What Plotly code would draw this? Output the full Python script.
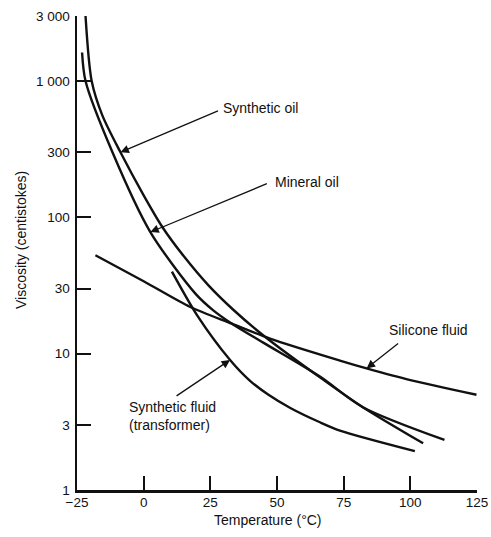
import numpy as np
import plotly.graph_objects as go

# ---- data (temperature °C, viscosity cSt) ----
synthetic_oil_T = [-21.8, -19.5, -15.5, -8.7, 0.0, 7.0, 15.0, 24.3, 33.6, 44.9, 66.1, 82.2, 104.8]
synthetic_oil_v = [3000, 1000, 560, 300, 145, 85, 52, 31.7, 21.0, 13.6, 6.7, 4.05, 2.2]

mineral_oil_T = [-23.1, -21.8, -11.7, 2.5, 19.4, 26.1, 33.1, 45.0, 66.1, 82.2, 112.8]
mineral_oil_v = [1620, 1000, 300, 78, 27.6, 20.8, 16.6, 12.0, 6.8, 4.05, 2.33]

silicone_T = [-18.1, 0.0, 17.5, 33.1, 47.4, 73.6, 83.6, 100.0, 124.8]
silicone_v = [52.7, 34.0, 22.0, 16.6, 12.9, 8.9, 7.8, 6.4, 5.0]

transformer_T = [10.6, 20.0, 32.4, 40.0, 46.8, 55.0, 66.1, 73.6, 101.7]
transformer_v = [40.0, 19.2, 9.0, 6.3, 5.0, 4.0, 3.14, 2.73, 1.93]

x_tickvals = [-25, 0, 25, 50, 75, 100, 125]
x_ticktext = ["\u221225", "0", "25", "50", "75", "100", "125"]
y_tickvals = [1, 3, 10, 30, 100, 300, 1000, 3000]
y_ticktext = ["1", "3", "10", "30", "100", "300", "1 000", "3 000"]

labels = ["Synthetic oil", "Mineral oil", "Silicone fluid", "Synthetic fluid<br>(transformer)"]
label_tip_T = [-8.7, 2.5, 83.6, 32.4]

FONT = "Liberation Sans, Arial, Helvetica, sans-serif"
INK = "#111111"

series = [
    (synthetic_oil_T, synthetic_oil_v),
    (mineral_oil_T, mineral_oil_v),
    (silicone_T, silicone_v),
    (transformer_T, transformer_v),
]

fig = go.Figure()
for T, v in series:
    fig.add_trace(go.Scatter(
        x=T, y=v, mode="lines",
        line=dict(color=INK, width=2.4, shape="spline", smoothing=0.8),
        showlegend=False, hoverinfo="skip", cliponaxis=False,
    ))

# plot area geometry (pixels) for placing labels
L, R, T_, B = 77, 14, 16, 47
W, H = 491, 537
pw, ph = W - L - R, H - T_ - B


def px(x):
    return (x - L) / pw


def py(y):
    return (H - B - y) / ph


annotations = []
label_pos = [(221, 108), (273, 182), (387, 330), (127, 416)]
for text, (lx, ly) in zip(labels, label_pos):
    annotations.append(dict(
        text=text, xref="paper", yref="paper", x=px(lx), y=py(ly),
        xanchor="left", yanchor="middle", align="left", showarrow=False,
        font=dict(family=FONT, size=14, color=INK),
    ))

# arrows: tip on the curve (interpolated from data), tail offset in pixels
arrow_offsets = [(99, -42), (118, -49), (33, -26), (-55, 37)]
for (T, v), tipT, (ax, ay) in zip(series, label_tip_T, arrow_offsets):
    tip_logv = float(np.interp(tipT, T, np.log10(v)))
    annotations.append(dict(
        text="", x=tipT, y=tip_logv, xref="x", yref="y",
        showarrow=True, ax=ax, ay=ay, arrowhead=2, arrowsize=1.3,
        arrowwidth=1.3, arrowcolor=INK, standoff=0, startstandoff=0,
    ))

annotations.append(dict(
    text="Temperature (°C)", xref="paper", yref="paper", x=px(268), y=py(520),
    xanchor="center", yanchor="middle", showarrow=False,
    font=dict(family=FONT, size=14, color=INK),
))
annotations.append(dict(
    text="Viscosity (centistokes)", xref="paper", yref="paper", x=px(21), y=py(240),
    xanchor="center", yanchor="middle", showarrow=False, textangle=-90,
    font=dict(family=FONT, size=14, color=INK),
))

fig.update_layout(
    width=W, height=H, autosize=False,
    margin=dict(l=L, r=R, t=T_, b=B, pad=0),
    paper_bgcolor="white", plot_bgcolor="white",
    annotations=annotations,
    xaxis=dict(
        range=[-25, 125], tickvals=x_tickvals, ticktext=x_ticktext,
        showline=True, linecolor=INK, linewidth=2.5, mirror=False,
        ticks="inside", ticklen=14, tickwidth=2, tickcolor=INK,
        showgrid=False, zeroline=False, ticklabelstandoff=-2, automargin=False,
        tickfont=dict(family=FONT, size=13.5, color=INK),
    ),
    yaxis=dict(
        type="log", range=[0, np.log10(3000)],
        tickvals=y_tickvals, ticktext=y_ticktext,
        showline=True, linecolor=INK, linewidth=2.5, mirror=False,
        ticks="inside", ticklen=14, tickwidth=2, tickcolor=INK,
        showgrid=False, zeroline=False, ticklabelstandoff=2, automargin=False,
        tickfont=dict(family=FONT, size=13.5, color=INK),
    ),
)

# remove the browser's default page margin so the figure sits at (0, 0)
fig.write_html(
    "out.html",
    config={"displayModeBar": False, "staticPlot": True},
    post_script="document.body.style.margin='0';document.body.style.overflow='hidden';",
)
